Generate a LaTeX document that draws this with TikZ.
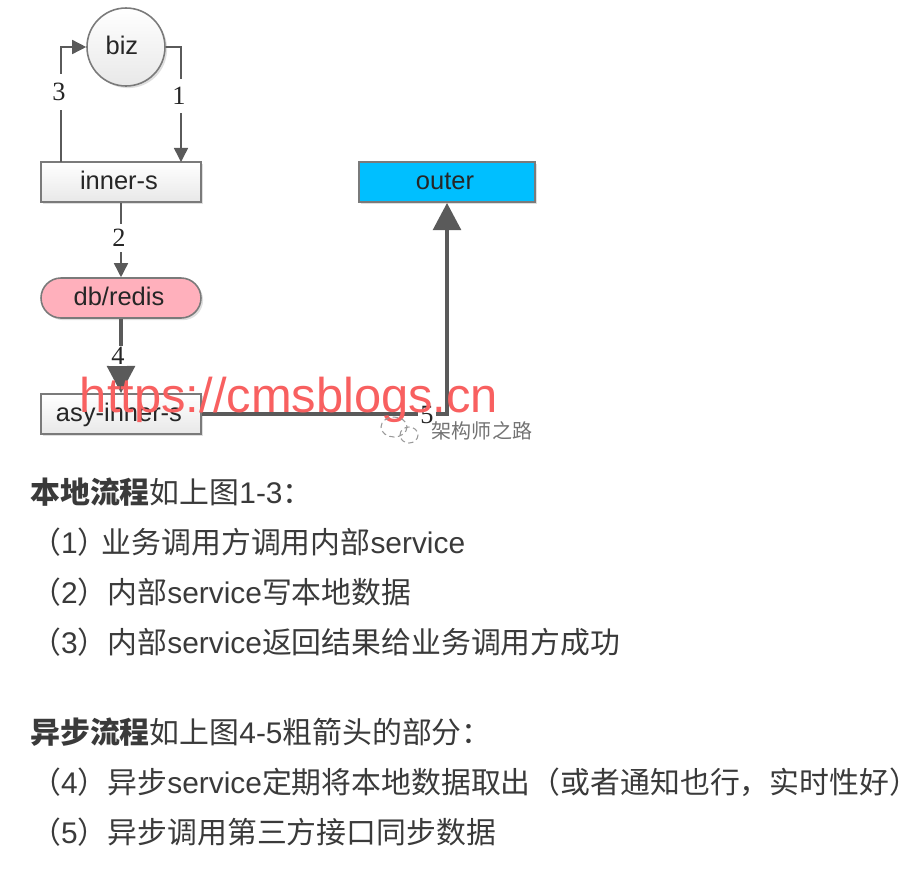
\documentclass[tikz,border=0pt]{standalone}
\usepackage{fontspec}
\setmainfont{Liberation Sans}
\newfontfamily\cjk{Noto Sans CJK SC}
\newfontfamily\num{Liberation Serif}
\usetikzlibrary{arrows.meta,shadows}
\definecolor{linegray}{HTML}{5A5A5A}
\definecolor{boxgray}{HTML}{7A7A7A}
\definecolor{textgray}{HTML}{3A3A3A}
\definecolor{outerblue}{HTML}{00BFFF}
\definecolor{dbpink}{HTML}{FFB0BC}
\definecolor{markred}{HTML}{F86060}
\newcommand\lat[1]{{\rmfamily #1}}
\tikzset{
  unit/.style={draw=boxgray, line width=0.9pt, text=black!85, font=\fontsize{14.5}{16}\selectfont,
    drop shadow={shadow xshift=1.2pt, shadow yshift=-1.2pt, fill=black!25}, inner sep=0pt,
    text height=10.4pt, text depth=2.3pt, execute at end node=\kern2.3pt},
  boxs/.style={unit, rectangle, minimum width=160*0.02cm, minimum height=40*0.02cm, top color=white, bottom color=black!9},
  thin line/.style={draw=linegray, line width=0.85pt},
  thick line/.style={draw=linegray, line width=2.8pt},
  thin tip/.style={-{Triangle[length=8pt,width=8pt]}},
  thick tip/.style={-{Triangle[length=15.5pt,width=15.5pt]}},
  num label/.style={fill=white, inner xsep=1.2pt, inner ysep=3pt, text=black!85, font=\num\fontsize{15}{16}\selectfont},
  para/.style={anchor=west, inner sep=0pt, text=textgray, font=\cjk\fontsize{17}{19}\selectfont},
}
\begin{document}
\begin{tikzpicture}[x=0.02cm, y=-0.02cm]
\useasboundingbox (0, 0) rectangle (918, 880);
%% Nodes
\node[unit, circle, minimum size=78*0.02cm, top color=white, bottom color=black!9](biz) at (126, 47) {biz\kern2.3pt};
\node[boxs](inner) at (121, 182) {inner-s};
\node[boxs, rounded corners=20*0.02cm, top color=dbpink, bottom color=dbpink](db) at (121, 298) {db/redis};
\node[boxs](asy) at (121, 414) {asy-inner-s};
\node[boxs, minimum width=176*0.02cm, top color=outerblue, bottom color=outerblue](outer) at (447, 182) {outer};
\coordinate (c1) at (181, 162);
\coordinate (c3) at (61, 162);
%% Lines
\draw[thin line, thin tip] (biz.east) -| node[pos=0.713, num label, inner ysep=5pt, xshift=-0.04cm] {1} (c1);
\draw[thin line, thin tip] (c3) |- node[pos=0.304, num label, inner ysep=5pt, xshift=-0.04cm] {3} (biz.west);
\draw[thin line, thin tip] (inner) -- node[pos=0.47, num label, xshift=-0.04cm] {2} (db);
\draw[thick line, thick tip] (db) -- node[pos=0.5, num label, inner ysep=1pt, xshift=-0.06cm] {4} (asy);
\draw[thick line, thick tip, line join=miter] (asy.east) -| node[pos=0.459, num label, yshift=-0.02cm] {5} (outer.south);
%% Watermark
\node[inner sep=0pt, text=markred, font=\fontsize{27.8}{30}\selectfont](mark) at (289, 400) {https://cmsblogs.cn};
\node[inner sep=0pt, text=black!55, font=\cjk\fontsize{11.4}{12}\selectfont](wechat) at (482, 431) {架构师之路};
\draw[black!40, densely dashed, line width=0.6pt] (394, 427) ellipse (13 and 10) (409, 435) ellipse (9 and 8);
%% Text
\node[para](t1) at (30, 492) {\textbf{本地流程}如上图\lat{1-3}：};
\node[para](t2) at (31, 542) {（\lat{1}）\hspace{-3.4pt}业务调用方调用内部\lat{service}};
\node[para](t3) at (31, 592) {（\lat{2}）内部\lat{service}写本地数据};
\node[para](t4) at (31, 642) {（\lat{3}）内部\lat{service}返回结果给业务调用方成功};
\node[para](t5) at (30, 732) {\textbf{异步流程}如上图\lat{4-5}粗箭头的部分：};
\node[para](t6) at (31, 782) {（\lat{4}）异步\lat{service}定期将本地数据取出（或者通知也行，实时性好）};
\node[para](t7) at (31, 832) {（\lat{5}）异步调用第三方接口同步数据};
\end{tikzpicture}
\end{document}
